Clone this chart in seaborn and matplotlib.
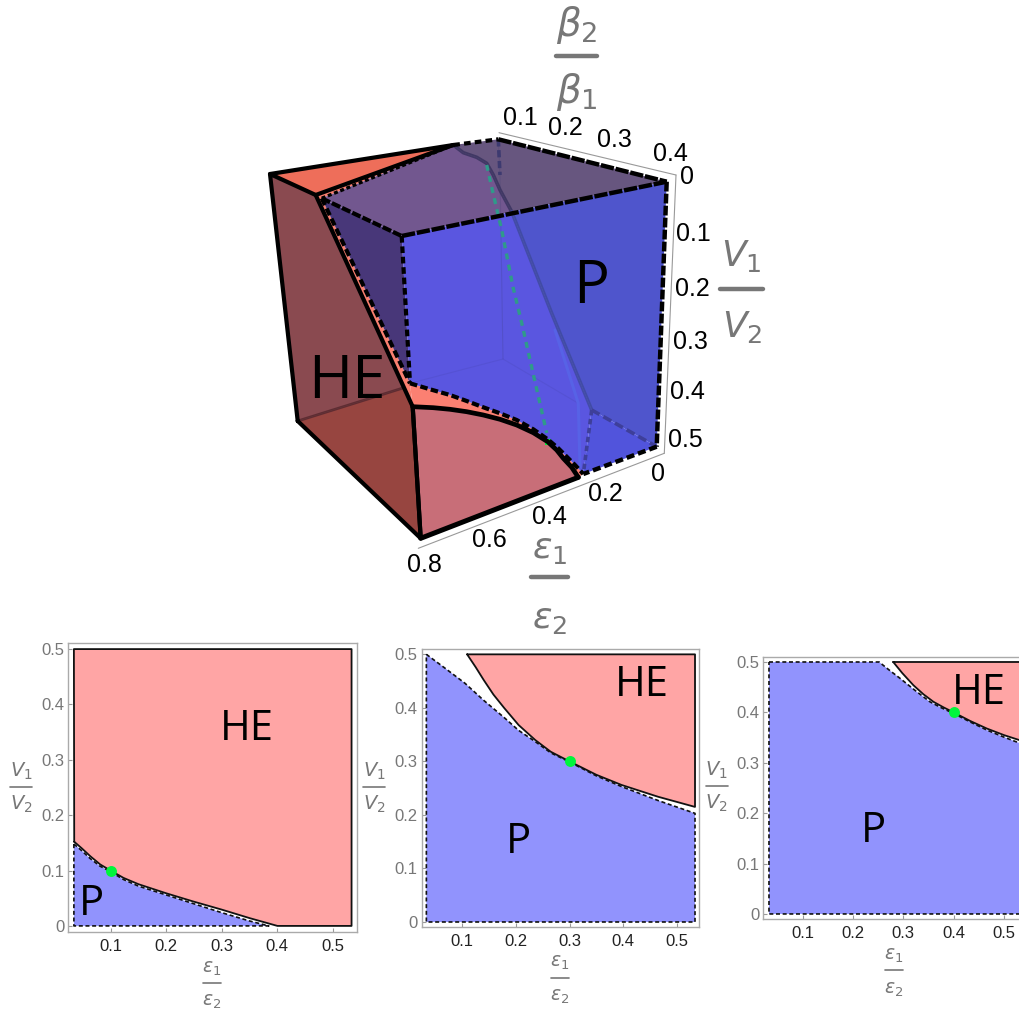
import matplotlib
matplotlib.use("Agg")
import matplotlib.pyplot as plt
import seaborn as sns

W, H = 1020, 1017

RED = "#ffa5a5"
BLUE = "#9193fd"
GREEN = "#00f53c"
GREY = "#777777"

# --- 3D box, outlines (image pixels) ---
A = (270, 174)
B = (315.7, 195)
C = (453.3, 145)
D = (498.3, 139.3)
E = (666.7, 181.7)
F = (401.7, 236)
G = (321.7, 198.3)
CORNER = (656.7, 446.7)
HB = (583.3, 474)
I = (410, 383.3)
J = (412.7, 406.7)
K = (420.7, 538.3)
L = (297.7, 421)
M = (578.3, 477.3)
FLOOR = (403, 388)
CROSS = (511.7, 211.7)
INNER = (591.7, 410)
BACK = (503, 359)

p_curve_3d = [I, (430, 389.3), (450, 395), (466.7, 401), (483.3, 407.3), (500, 413.3), (516.7, 420),
              (533.3, 429.3), (547.7, 439.3), (558.3, 448.3), (566.7, 456.7), (575, 465), HB]
he_curve_3d = [J, (433.3, 407.7), (450, 409.3), (466.7, 411.7), (483.3, 415), (500, 419.3), (516.7, 425),
               (533.3, 432.7), (547.7, 441.7), (556.7, 450), (563.3, 458.3), (571.7, 467.3), M]
inner_top = [C, (463.3, 152.7), (476.7, 157.3), (486.7, 163.3), (493.3, 175), (500, 190), CROSS]
inner_low = [CROSS, (551.7, 313.3), INNER]
light_band = [(555, 330), (578.3, 403.3), (580, 466.7)]
green_path = [(486.7, 165), (493, 193), (501.7, 230), (513, 287), (521.7, 323), (533, 373), (546.7, 433)]
green_end = (547.7, 441.5)

box_top = [(499, 132.7), (676, 175)]
box_side = [(676, 175), (664.3, 453.3)]
box_low = [(664.3, 453.3), (418.3, 548.3)]

beta_ticks = ["0.1", "0.2", "0.3", "0.4"]
beta_pos = [(520, 118), (565, 128), (614.3, 140), (670.7, 154)]
v_ticks = ["0", "0.1", "0.2", "0.3", "0.4", "0.5"]
v_pos = [(686.7, 176.7), (693.3, 234), (692.3, 289), (690, 341.7), (687.3, 391.7), (685.7, 440)]
eps_ticks = ["0", "0.2", "0.4", "0.6", "0.8"]
eps_pos = [(657.7, 474), (605.7, 494), (549, 516.7), (489, 540), (424, 565)]

# --- 2D slices (data values) ---
panel1_he_x = [0.0346, 0.0484, 0.0634, 0.0814, 0.1, 0.1234, 0.1504, 0.2, 0.2493, 0.3, 0.351, 0.4005]
panel1_he_y = [0.152, 0.14, 0.126, 0.111, 0.1, 0.0867, 0.0753, 0.059, 0.044, 0.0295, 0.0139, 0.0]
panel1_p_x = [0.034, 0.048, 0.063, 0.081, 0.1, 0.123, 0.15, 0.2, 0.25, 0.3, 0.35, 0.385]
panel1_p_y = [0.148, 0.136, 0.122, 0.108, 0.098, 0.084, 0.072, 0.056, 0.04, 0.024, 0.009, 0.0]

panel2_he_x = [0.109, 0.125, 0.14, 0.158, 0.178, 0.205, 0.236, 0.265, 0.3, 0.35, 0.397, 0.465, 0.534]
panel2_he_y = [0.5, 0.476, 0.452, 0.425, 0.4, 0.368, 0.34, 0.318, 0.3, 0.275, 0.256, 0.234, 0.215]
panel2_p_x = [0.033, 0.068, 0.105, 0.14, 0.178, 0.205, 0.236, 0.265, 0.3, 0.35, 0.397, 0.465, 0.534]
panel2_p_y = [0.5, 0.474, 0.446, 0.414, 0.382, 0.358, 0.337, 0.316, 0.299, 0.273, 0.253, 0.227, 0.203]

panel3_he_x = [0.28, 0.298, 0.32, 0.34, 0.36, 0.38, 0.4, 0.433, 0.466, 0.5, 0.534]
panel3_he_y = [0.5, 0.478, 0.454, 0.436, 0.421, 0.41, 0.4, 0.383, 0.368, 0.355, 0.344]
panel3_p_x = [0.033, 0.252, 0.272, 0.293, 0.323, 0.353, 0.376, 0.4, 0.433, 0.466, 0.5, 0.534]
panel3_p_y = [0.5, 0.5, 0.484, 0.468, 0.444, 0.421, 0.409, 0.398, 0.381, 0.365, 0.351, 0.338]

ticks = [0.1, 0.2, 0.3, 0.4, 0.5]
xtick_labels = ["0.1", "0.2", "0.3", "0.4", "0.5"]
yticks = [0, 0.1, 0.2, 0.3, 0.4, 0.5]
ytick_labels = ["0", "0.1", "0.2", "0.3", "0.4", "0.5"]

sns.set_theme(style="white")
plt.rcParams["font.family"] = ["Liberation Sans", "DejaVu Sans"]
plt.rcParams["mathtext.fontset"] = "dejavusans"

fig = plt.figure(figsize=(W / 100, H / 100), dpi=100, facecolor="white")
sketch = fig.add_axes([0, 0, 1, 1])
sketch.set_axis_off()


def face(points, color, alpha=1.0):
    xs, ys = zip(*points)
    sketch.fill(xs, ys, color=color, alpha=alpha, lw=0)


def line(points, color="black", lw=3.0, dash=None, alpha=1.0, ax=None):
    xs, ys = zip(*points)
    kw = {"linestyle": (0, dash)} if dash else {}
    sns.lineplot(x=list(xs), y=list(ys), sort=False, estimator=None, color=color, lw=lw,
                 alpha=alpha, ax=ax or sketch, legend=False, **kw)


def fraction(num, den, cx, num_y, bar_y, den_y, half, size, lw):
    sketch.text(cx, num_y, num, color=GREY, fontsize=size, ha="center", va="center")
    sketch.text(cx, den_y, den, color=GREY, fontsize=size, ha="center", va="center")
    line([(cx - half, bar_y), (cx + half, bar_y)], color=GREY, lw=lw)


# faces, back to front
face([A, B, J, FLOOR, L], "#8a4a50")
face([L, FLOOR, J, K], "#974540")
face([A, C, B], "#ee6e5a")
face([B, C, G, I, J], "#fa8070")
face([J] + p_curve_3d + [M] + he_curve_3d[::-1], "#fb8072")
face(he_curve_3d + [K], "#c86e78")
face([G, F, I], "#483779")
face([G] + inner_top + [F], "#72578f")
face(inner_top + [E, D], "#67567f")
face([F] + inner_low + [HB] + p_curve_3d[::-1], "#5a56e0")
face(inner_low + [CORNER, E], "#4f55cc")
face([INNER, CORNER, HB], "#5154dc")

line([D, (500, 175), BACK], color="#3a3a70", lw=0.8, alpha=0.2)
line([I, BACK, light_band[1]], color="#3a3a90", lw=0.8, alpha=0.15)
line([L, FLOOR], color="#5a2a30", lw=2.0, alpha=0.9)

line(light_band, color="#5762e6", lw=2.2)
line(inner_top, color="#3a3360", lw=2.6, alpha=0.85)
line(inner_low, color="#3f4aa0", lw=2.6, alpha=0.85)
line([D, (500, 175)], color="#3d3a70", lw=2.6, dash=(2, 1))
line([INNER, HB], color="#3e3f9a", lw=2.6, dash=(1.5, 1))
line([INNER, CORNER], color="#3e3f9a", lw=2.6, dash=(2.5, 1.2))
line(green_path, color="#2f9a8a", lw=2.4, dash=(1.8, 1.6))

# box frame
line(box_top, color="#999999", lw=0.8)
line(box_side, color="#999999", lw=0.8)
line(box_low, color="#999999", lw=0.8)

# edges
line([L, A, B, J, K, L], lw=3.0)
line([A, C], lw=3.0)
line([B, C], lw=3.0)
line([J, K], lw=3.0)
line([K, M], lw=3.6)
line(he_curve_3d, lw=3.4)
line([G, C], lw=2.4, dash=(1.2, 0.8))
line([C, D], lw=3.0, dash=(1.6, 1.0))
line([D, E], lw=3.2, dash=(3, 0.4))
line([E, F], lw=3.2, dash=(3, 0.4))
line([G, F], lw=3.0, dash=(2.2, 0.5))
line([G, I], lw=3.0, dash=(1.8, 0.9))
line([F, I], lw=3.0, dash=(1.6, 0.9))
line([E, CORNER], lw=3.2, dash=(2.2, 0.5))
line([CORNER, HB], lw=3.2, dash=(1.8, 0.9))
line(p_curve_3d, lw=3.0, dash=(1.8, 0.8))

sns.scatterplot(x=[green_end[0]], y=[green_end[1]], color=GREEN, s=24, marker="s",
                linewidth=0, ax=sketch, legend=False)

for labels, spots in [(beta_ticks, beta_pos), (v_ticks, v_pos), (eps_ticks, eps_pos)]:
    for txt, (x, y) in zip(labels, spots):
        sketch.text(x, y, txt, fontsize=18, color="black", ha="center", va="center")

sketch.text(346.7, 382, "HE", family="Open Sans", fontsize=43, ha="center", va="center", color="black")
sketch.text(590.7, 287, "P", family="Open Sans", fontsize=43, ha="center", va="center", color="black")

fraction(r"$\beta_2$", r"$\beta_1$", 576.7, 25, 55.7, 92, 20.5, 28, 3.2)
fraction(r"$V_1$", r"$V_2$", 741.7, 256, 289.3, 327, 21.5, 26, 3.2)
fraction(r"$\epsilon_1$", r"$\epsilon_2$", 550, 548, 577.3, 618, 18.5, 26, 3.2)

fraction(r"$V_1$", r"$V_2$", 21, 771, 786.7, 804, 11, 14, 1.2)
fraction(r"$\epsilon_1$", r"$\epsilon_2$", 212, 969, 983, 1002, 9, 13.5, 1.2)
fraction(r"$V_1$", r"$V_2$", 374, 771, 786.7, 804, 11, 14, 1.2)
fraction(r"$\epsilon_1$", r"$\epsilon_2$", 560, 963, 978, 997, 9, 13.5, 1.2)
fraction(r"$V_1$", r"$V_2$", 716.7, 770, 786, 803, 11, 14, 1.2)
fraction(r"$\epsilon_1$", r"$\epsilon_2$", 894, 956, 970, 990, 9, 13.5, 1.2)

sketch.set_xlim(0, W)
sketch.set_ylim(H, 0)


def panel(frame, xlim, ylim, he_x, he_y, p_x, p_y, he_corners, p_corners, point, he_at, p_at):
    left, right, top, bottom = frame
    ax = fig.add_axes([left / W, 1 - bottom / H, (right - left) / W, (bottom - top) / H])
    he_xs = list(he_x) + [c[0] for c in he_corners]
    he_ys = list(he_y) + [c[1] for c in he_corners]
    p_xs = list(p_x) + [c[0] for c in p_corners]
    p_ys = list(p_y) + [c[1] for c in p_corners]
    ax.fill(p_xs, p_ys, color=BLUE, lw=0)
    ax.fill(he_xs, he_ys, color=RED, lw=0)
    line(list(zip(p_xs + p_xs[:1], p_ys + p_ys[:1])), lw=1.2, dash=(2.4, 1.6), color="#111111", ax=ax)
    line(list(zip(he_xs + he_xs[:1], he_ys + he_ys[:1])), lw=1.3, color="#111111", ax=ax)
    sns.scatterplot(x=[point], y=[point], color=GREEN, s=62, linewidth=0, ax=ax, legend=False, zorder=5)
    ax.text(he_at[0], he_at[1] - 0.005, "HE", family="Open Sans", fontsize=30, ha="center", va="center", color="black")
    ax.text(p_at[0], p_at[1] - 0.005, "P", family="Open Sans", fontsize=30, ha="center", va="center", color="black")
    ax.set_xlim(*xlim)
    ax.set_ylim(*ylim)
    ax.set_xticks(ticks, xtick_labels)
    ax.set_yticks(yticks, ytick_labels)
    ax.tick_params(axis="x", direction="in", length=3, width=0.8, color="#999999",
                   labelsize=12, labelcolor="#222222", pad=5, bottom=True)
    ax.tick_params(axis="y", direction="in", length=3, width=0.8, color="#999999",
                   labelsize=12, labelcolor=GREY, pad=3, left=True)
    for s in ax.spines.values():
        s.set_color("#aaaaaa")
        s.set_linewidth(1.0)
    return ax


panel((68.5, 357, 643, 932), (0.0243, 0.5438), (-0.011, 0.511),
      panel1_he_x, panel1_he_y, panel1_p_x, panel1_p_y,
      [(0.534, 0), (0.534, 0.5), (0.034, 0.5)], [(0.034, 0)],
      0.1, (0.346, 0.36), (0.065, 0.044))
panel((421.7, 699.3, 649, 926.7), (0.0243, 0.542), (-0.0088, 0.51),
      panel2_he_x, panel2_he_y, panel2_p_x, panel2_p_y,
      [(0.534, 0.5)], [(0.534, 0), (0.033, 0)],
      0.3, (0.435, 0.448), (0.204, 0.155))
panel((763.3, 1026, 656.7, 919), (0.0217, 0.544), (-0.01, 0.5105),
      panel3_he_x, panel3_he_y, panel3_p_x, panel3_p_y,
      [(0.534, 0.5)], [(0.534, 0), (0.033, 0)],
      0.4, (0.451, 0.444), (0.24, 0.169))

fig.savefig("out.png", dpi=100)
